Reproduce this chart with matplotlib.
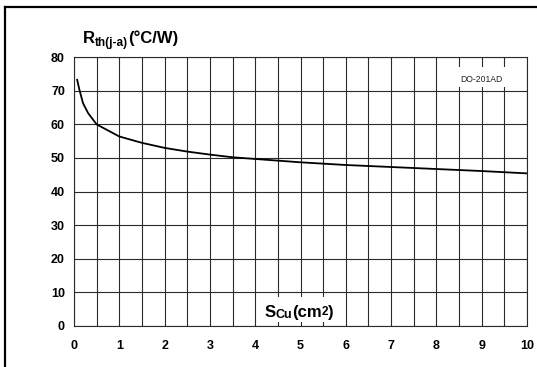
import matplotlib
matplotlib.use("Agg")
import matplotlib.pyplot as plt
from matplotlib.lines import Line2D
from matplotlib.patches import Rectangle
import numpy as np

# ---- data ----
s_cu = [0.07, 0.12, 0.2, 0.31, 0.5, 1.0, 1.5, 2.0, 2.5, 3.0, 3.5, 4.0, 5.0, 6.0, 7.0, 8.0, 9.0, 10.0]
rth = [73.3, 70.3, 66.3, 63.4, 60.0, 56.4, 54.5, 53.0, 51.9, 51.0, 50.2, 49.7, 48.7, 47.9, 47.3, 46.7, 46.1, 45.4]
x_ticks = [0, 1, 2, 3, 4, 5, 6, 7, 8, 9, 10]
y_ticks = [0, 10, 20, 30, 40, 50, 60, 70, 80]
package_label = "DO-201AD"

plt.rcParams['font.family'] = ['Liberation Sans', 'DejaVu Sans']

fig = plt.figure(figsize=(5.37, 3.67), dpi=100)
ax = fig.add_axes([74 / 537, 1 - 325.7 / 367, (527 - 74) / 537, (325.7 - 57.3) / 367])

ax.set_xlim(0, 10)
ax.set_ylim(0, 80)
ax.set_xticks(x_ticks)
ax.set_xticks(np.arange(0.5, 10, 1.0), minor=True)
ax.set_yticks(y_ticks)
ax.set_xticklabels([str(v) for v in x_ticks], fontsize=9, fontweight='bold')
ax.set_yticklabels([str(v) for v in y_ticks], fontsize=9, fontweight='bold')
ax.tick_params(axis='both', which='both', length=0)
ax.tick_params(axis='x', pad=10)
ax.tick_params(axis='y', pad=6.5)

ax.grid(True, which='both', axis='x', color='#2a2a2a', linewidth=0.8)
ax.grid(True, which='major', axis='y', color='#2a2a2a', linewidth=0.8)
ax.set_axisbelow(True)
for sp in ax.spines.values():
    sp.set_color('#2a2a2a')
    sp.set_linewidth(0.8)

ax.plot(s_cu, rth, color='black', linewidth=1.3, zorder=3)

# white boxes covering gridlines behind labels
ax.add_patch(Rectangle((8.43, 71.2), 1.13, 6.0, facecolor='white', edgecolor='none', zorder=2))
ax.add_patch(Rectangle((4.12, 1.1), 1.85, 7.6, facecolor='white', edgecolor='none', zorder=2))

ax.text(8.99, 73.4, package_label, fontsize=6.2, ha='center', va='center', zorder=4, color='#222')

# x label: S_Cu(cm2)
t1 = ax.text(4.2, 2.6, "S", fontsize=12, fontweight='bold', ha='left', va='baseline', zorder=4)
t2 = ax.annotate("Cu", xy=(1, 0), xycoords=t1, xytext=(0, -1.0), textcoords='offset points',
                 fontsize=9, fontweight='bold', va='bottom', ha='left', zorder=4)
t3 = ax.annotate("(cm", xy=(1, 0), xycoords=(t2, t1), fontsize=12, fontweight='bold',
                 va='bottom', ha='left', zorder=4)
t4 = ax.annotate("2", xy=(1, 0), xycoords=t3, xytext=(0, 1.3), textcoords='offset points',
                 fontsize=8.5, fontweight='bold', va='bottom', ha='left', zorder=4)
t5 = ax.annotate(")", xy=(1, 0), xycoords=(t4, t1), fontsize=12, fontweight='bold',
                 va='bottom', ha='left', zorder=4)

# y label: R_th(j-a)(°C/W)
r1 = fig.text(83 / 537, 1 - 43.3 / 367, "R", fontsize=12, fontweight='bold', ha='left', va='baseline')
r2 = fig.add_artist(plt.Annotation("th(j-a)", xy=(1, 0), xycoords=r1, xytext=(0, -2.2),
                                   textcoords='offset points', fontsize=8.5, fontweight='bold',
                                   va='bottom', ha='left'))
r3 = fig.add_artist(plt.Annotation("(°C/W)", xy=(1, 0), xycoords=(r2, r1), fontsize=12,
                                   fontweight='bold', va='bottom', ha='left'))

# outer frame (left and top)
fig.add_artist(Line2D([4.8 / 537, 4.8 / 537], [0, 1 - 6.5 / 367], transform=fig.transFigure,
                      color='black', linewidth=1.6, solid_capstyle='projecting'))
fig.add_artist(Line2D([4.8 / 537, 1], [1 - 6.5 / 367, 1 - 6.5 / 367], transform=fig.transFigure,
                      color='black', linewidth=1.6, solid_capstyle='projecting'))

fig.savefig("out.png", dpi=100)
